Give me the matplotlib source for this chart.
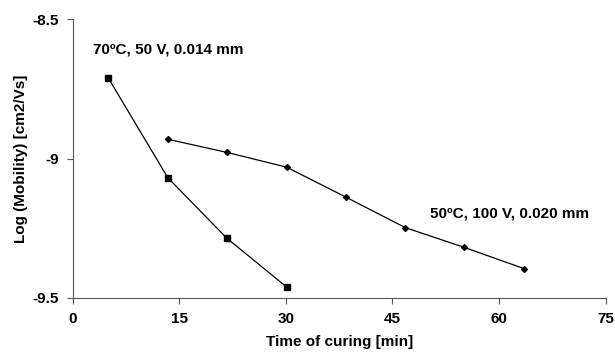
import matplotlib
matplotlib.use('Agg')
import matplotlib.pyplot as plt

# 70 C, 50 V, 0.014 mm
time_70 = [5.0, 13.4, 21.7, 30.1]
mob_70 = [-8.71, -9.069, -9.286, -9.461]

# 50 C, 100 V, 0.020 mm
time_50 = [13.4, 21.7, 30.1, 38.4, 46.8, 55.1, 63.5]
mob_50 = [-8.931, -8.978, -9.031, -9.138, -9.248, -9.319, -9.395]

x_ticks = [0, 15, 30, 45, 60, 75]
y_ticks = [-9.5, -9.0, -8.5]
y_tick_labels = ['-9.5', '-9', '-8.5']


def main():
    plt.rcParams['font.family'] = ['Liberation Sans', 'DejaVu Sans']
    plt.rcParams['font.weight'] = 'bold'

    fig = plt.figure(figsize=(6.15, 3.55), dpi=100)
    ax = fig.add_axes([0.118, 0.161, 0.867, 0.785])

    ax.plot(time_70, mob_70, color='black', linewidth=0.9, marker='s', markersize=3.8)
    ax.plot(time_50, mob_50, color='black', linewidth=0.9, marker='D', markersize=3)

    ax.text(2.85, -8.61, '70ºC, 50 V, 0.014 mm', fontsize=11, fontweight='bold',
            va='center', ha='left')
    ax.text(50.3, -9.196, '50ºC, 100 V, 0.020 mm', fontsize=11, fontweight='bold',
            va='center', ha='left')

    ax.set_xlim(0, 75)
    ax.set_ylim(-9.5, -8.5)
    ax.set_xticks(x_ticks)
    ax.set_yticks(y_ticks)
    ax.set_yticklabels(y_tick_labels)

    ax.spines['top'].set_visible(False)
    ax.spines['right'].set_visible(False)
    ax.spines['left'].set_color('#555555')
    ax.spines['bottom'].set_color('#555555')
    ax.tick_params(direction='out', length=4, width=0.8, color='#555555',
                   labelsize=11, pad=6)
    for lbl in ax.get_xticklabels() + ax.get_yticklabels():
        lbl.set_fontweight('bold')

    ax.set_xlabel('Time of curing [min]', fontsize=11, fontweight='bold', labelpad=7)
    ax.set_ylabel('Log (Mobility) [cm2/Vs]', fontsize=11, fontweight='bold', labelpad=3)

    fig.savefig('out.png', dpi=100)


if __name__ == '__main__':
    main()
